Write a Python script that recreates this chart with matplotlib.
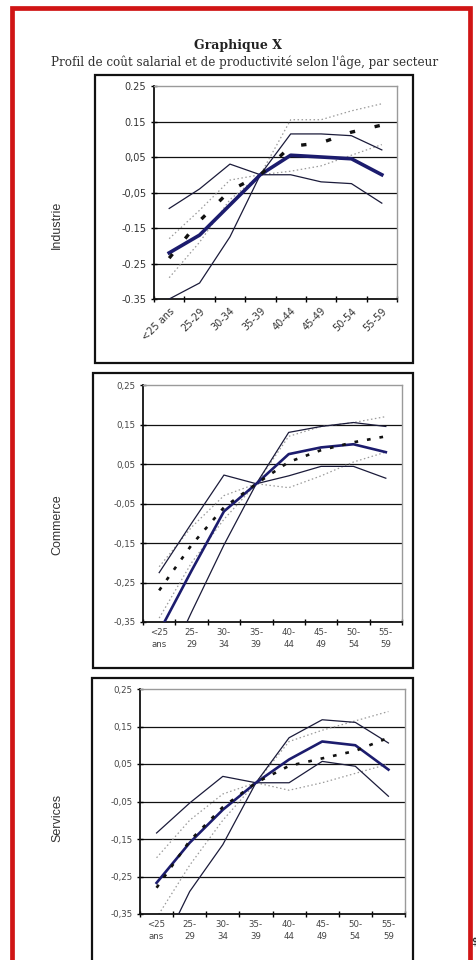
import matplotlib
matplotlib.use("Agg")
import matplotlib.pyplot as plt
from matplotlib.patches import Rectangle
import numpy as np

# ---------------- data ----------------
ages_rot = ["<25 ans", "25-29", "30-34", "35-39", "40-44", "45-49", "50-54", "55-59"]
ages_wrap = ["<25\nans", "25-\n29", "30-\n34", "35-\n39", "40-\n44", "45-\n49", "50-\n54", "55-\n59"]
sectors = ["Industrie", "Commerce", "Services"]
yticks_vals = [-0.35, -0.25, -0.15, -0.05, 0.05, 0.15, 0.25]
yticks_ind = ["-0.35", "-0.25", "-0.15", "-0,05", "0,05", "0.15", "0.25"]
yticks_other = ["-0,35", "-0,25", "-0,15", "-0,05", "0,05", "0,15", "0,25"]

# Industrie
ind_solid = [-0.22, -0.17, -0.085, 0.0, 0.055, 0.05, 0.045, 0.0]
ind_solid_a = [-0.095, -0.04, 0.03, 0.0, 0.0, -0.02, -0.025, -0.08]
ind_solid_b = [-0.35, -0.305, -0.175, 0.0, 0.115, 0.115, 0.11, 0.07]
ind_dash = [-0.235, -0.13, -0.045, 0.0, 0.08, 0.09, 0.12, 0.14]
ind_dot_a = [-0.18, -0.1, -0.015, 0.0, 0.01, 0.025, 0.055, 0.085]
ind_dot_b = [-0.29, -0.19, -0.07, 0.0, 0.155, 0.155, 0.18, 0.2]

# Commerce
com_solid = [-0.375, -0.22, -0.07, 0.0, 0.075, 0.092, 0.1, 0.08]
com_solid_a = [-0.225, -0.1, 0.022, 0.0, 0.02, 0.044, 0.044, 0.014]
com_solid_b = [-0.5, -0.325, -0.155, 0.0, 0.13, 0.145, 0.155, 0.145]
com_dash = [-0.27, -0.155, -0.06, 0.0, 0.055, 0.085, 0.105, 0.12]
com_dot_a = [-0.21, -0.11, -0.03, 0.0, -0.01, 0.02, 0.055, 0.08]
com_dot_b = [-0.34, -0.2, -0.09, 0.0, 0.12, 0.145, 0.155, 0.17]

# Services
ser_solid = [-0.267, -0.16, -0.072, 0.0, 0.062, 0.11, 0.1, 0.035]
ser_solid_a = [-0.134, -0.054, 0.017, 0.0, 0.0, 0.057, 0.044, -0.036]
ser_solid_b = [-0.47, -0.29, -0.165, 0.0, 0.12, 0.168, 0.161, 0.106]
ser_dash = [-0.28, -0.155, -0.065, 0.0, 0.045, 0.065, 0.085, 0.12]
ser_dot_a = [-0.2, -0.1, -0.03, 0.0, -0.02, 0.0, 0.025, 0.05]
ser_dot_b = [-0.36, -0.22, -0.1, 0.0, 0.11, 0.14, 0.165, 0.19]

series = [
    (ind_solid, ind_solid_a, ind_solid_b, ind_dash, ind_dot_a, ind_dot_b),
    (com_solid, com_solid_a, com_solid_b, com_dash, com_dot_a, com_dot_b),
    (ser_solid, ser_solid_a, ser_solid_b, ser_dash, ser_dot_a, ser_dot_b),
]

# ---------------- layout ----------------
W, H = 476, 960
fig = plt.figure(figsize=(W / 100, H / 100), dpi=100)
fig.patch.set_facecolor("white")


def rect_px(x0, y0, x1, y1):
    return [x0 / W, 1 - y1 / H, (x1 - x0) / W, (y1 - y0) / H]


def fx(x):
    return x / W


def fy(y):
    return 1 - y / H


# red frame
fig.patches.append(Rectangle((fx(11.5), fy(975)), fx(469.5) - fx(11.5), fy(8) - fy(975),
                             transform=fig.transFigure, fill=False,
                             edgecolor="#d01515", lw=3.4, zorder=0))

fig.text(fx(238), fy(45), "Graphique X", ha="center", va="center",
         family="DejaVu Serif", fontweight="bold", fontsize=9.0, color="#222222")
fig.text(fx(245), fy(62), "Profil de coût salarial et de productivité selon l'âge, par secteur",
         ha="center", va="center", family="DejaVu Serif", fontsize=8.6, color="#333333")

layouts = [
    dict(box=(95, 75, 413, 363), ax=(154, 86, 397, 299), lab_y=225, rot=True, fs=7.0,
         lw=2.6, dash_lw=2.4, dash=(0, (1.6, 6.0))),
    dict(box=(93, 373, 413, 668), ax=(143, 385, 402, 622), lab_y=525, rot=False, fs=6.2,
         lw=1.9, dash_lw=1.9, dash=(0, (1.4, 3.4))),
    dict(box=(92, 678, 413, 985), ax=(140, 689, 405, 914), lab_y=818, rot=False, fs=6.2,
         lw=1.9, dash_lw=1.9, dash=(0, (1.4, 3.4))),
]

x = np.arange(len(ages_rot)) + 0.5

for k, (lay, data) in enumerate(zip(layouts, series)):
    bx0, by0, bx1, by1 = lay["box"]
    fig.patches.append(Rectangle((fx(bx0), fy(by1)), fx(bx1) - fx(bx0), fy(by0) - fy(by1),
                                 transform=fig.transFigure, fill=False,
                                 edgecolor="#111111", lw=1.6, zorder=1))
    ax = fig.add_axes(rect_px(*lay["ax"]))
    solid, solid_a, solid_b, dash, dot_a, dot_b = data

    for d in (dot_a, dot_b):
        ax.plot(x, d, color="#9a9a9a", lw=0.9, linestyle=(0, (1.2, 2.0)), zorder=2)
    for d in (solid_a, solid_b):
        ax.plot(x, d, color="#1b1b3a", lw=0.9, zorder=3)
    ax.plot(x, solid, color="#1c1c6e", lw=lay["lw"], zorder=4)
    ax.plot(x, dash, color="#111111", lw=lay["dash_lw"], linestyle=lay["dash"], zorder=5)

    ax.set_xlim(0, 8)
    ax.set_ylim(-0.35, 0.25)
    ax.set_yticks(yticks_vals)
    ax.set_yticklabels(yticks_ind if k == 0 else yticks_other)
    for yv in yticks_vals[1:-1]:
        ax.axhline(yv, color="#111111", lw=0.9, zorder=1)

    ax.set_xticks(np.arange(0, 9))
    ax.set_xticklabels([])
    ax.set_xticks(x, minor=True)
    if lay["rot"]:
        ax.set_xticklabels(ages_rot, minor=True, rotation=45, ha="right",
                           rotation_mode="anchor", fontsize=lay["fs"], color="#333333")
    else:
        ax.set_xticklabels(ages_wrap, minor=True, fontsize=lay["fs"], color="#444444",
                           linespacing=1.5)
    ax.tick_params(axis="x", which="minor", length=0, pad=5 if lay["rot"] else 4)
    ax.tick_params(axis="x", which="major", direction="inout", length=5, width=1.0)
    ax.tick_params(axis="y", direction="inout", length=5, width=1.0,
                   labelsize=lay["fs"], labelcolor="#333333" if k == 0 else "#444444", pad=3)

    for side in ("left", "bottom"):
        ax.spines[side].set_color("#111111")
        ax.spines[side].set_linewidth(1.3)
    for side in ("top", "right"):
        ax.spines[side].set_color("#9a9a9a")
        ax.spines[side].set_linewidth(1.0)

    fig.text(fx(57), fy(lay["lab_y"]), sectors[k], rotation=90, ha="center", va="center",
             family="Liberation Sans", fontsize=9.0, color="#333333")

fig.text(fx(471.5), fy(941), "$", ha="left", va="center", fontsize=7, color="#111111")

fig.savefig("out.png", dpi=100, facecolor="white")
